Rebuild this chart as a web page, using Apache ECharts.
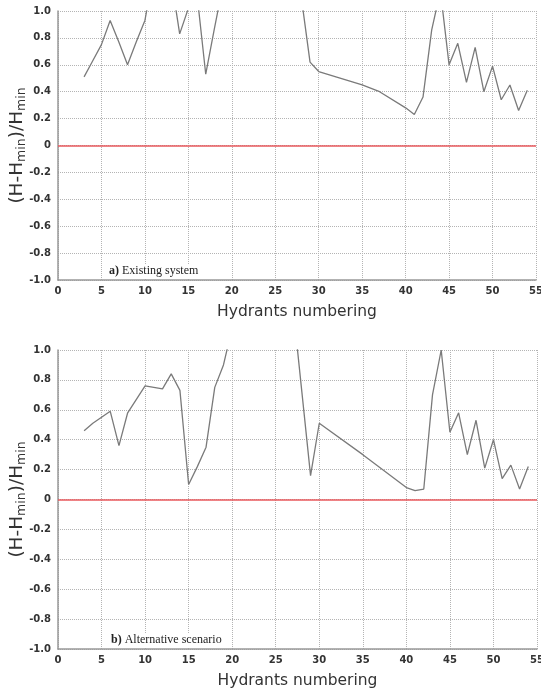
<!DOCTYPE html>
<html>
<head>
<meta charset="utf-8">
<script src="https://cdn.jsdelivr.net/npm/echarts@6/dist/echarts.min.js"></script>
<style>
  html, body { margin: 0; padding: 0; background: #fff; }
  #chart { width: 541px; height: 692px; }
</style>
</head>
<body>
<div id="chart"></div>
<script>
// a) existing system
const hydrantsA = [3, 4, 5, 6, 7, 8, 9, 10, 11, 12, 13, 14, 15, 16, 17, 18, 19, 20, 21, 22, 23, 24, 25, 26, 27, 28, 29, 30, 35, 37, 40, 41, 42, 43, 44, 45, 46, 47, 48, 49, 50, 51, 52, 53, 54];
const valuesA = [0.51, 0.63, 0.75, 0.93, 0.77, 0.60, 0.77, 0.93, 1.28, 1.40, 1.25, 0.83, 1.02, 1.12, 0.53, 0.87, 1.20, 1.40, 1.50, 1.60, 1.50, 1.40, 1.45, 1.35, 1.30, 1.10, 0.62, 0.55, 0.45, 0.40, 0.28, 0.23, 0.36, 0.86, 1.15, 0.60, 0.76, 0.47, 0.73, 0.40, 0.59, 0.34, 0.45, 0.26, 0.41];

// b) alternative scenario
const hydrantsB = [3, 4, 5, 6, 7, 8, 9, 10, 11, 12, 13, 14, 15, 16, 17, 18, 19, 20, 21, 22, 23, 24, 25, 26, 27, 28, 29, 30, 35, 40, 41, 42, 43, 44, 45, 46, 47, 48, 49, 50, 51, 52, 53, 54];
const valuesB = [0.46, 0.51, 0.55, 0.59, 0.36, 0.58, 0.67, 0.76, 0.75, 0.74, 0.84, 0.73, 0.10, 0.22, 0.35, 0.75, 0.90, 1.15, 1.30, 1.40, 1.50, 1.40, 1.30, 1.20, 1.28, 0.72, 0.16, 0.51, 0.30, 0.08, 0.06, 0.07, 0.70, 1.00, 0.45, 0.58, 0.30, 0.53, 0.21, 0.40, 0.14, 0.23, 0.07, 0.22];

const xTicks = { min: 0, max: 55, interval: 5 };
const yTicks = { min: -1, max: 1, interval: 0.2 };

const chart = echarts.init(document.getElementById('chart'));

const gridColor = '#b4b4b4';
const labelStyle = { color: '#333', fontWeight: 'bold', fontSize: 10, fontFamily: 'DejaVu Sans' };

const makeX = (gridIndex) => ({
  type: 'value',
  gridIndex,
  min: xTicks.min,
  max: xTicks.max,
  interval: xTicks.interval,
  name: 'Hydrants numbering',
  nameLocation: 'middle',
  nameGap: 24,
  nameMoveOverlap: false,
  nameTextStyle: { color: '#333', fontSize: 15.5, fontFamily: 'DejaVu Sans' },
  axisLine: { onZero: false, lineStyle: { color: '#999', width: 1.5 } },
  axisTick: { show: false },
  axisLabel: { ...labelStyle, margin: 6 },
  splitLine: { show: true, lineStyle: { color: gridColor, type: 'dotted', width: 1 } }
});

const makeY = (gridIndex) => ({
  type: 'value',
  gridIndex,
  min: yTicks.min,
  max: yTicks.max,
  interval: yTicks.interval,
  name: '(H-H{sub|min})/H{sub|min}',
  nameLocation: 'middle',
  nameGap: 30,
  nameMoveOverlap: false,
  nameRotate: 90,
  nameTextStyle: {
    color: '#333', fontSize: 18.5, fontFamily: 'DejaVu Sans', lineHeight: 22,
    rich: { sub: { fontSize: 12.5, fontFamily: 'DejaVu Sans', color: '#333', verticalAlign: 'bottom', lineHeight: 14 } }
  },
  axisLine: { show: true, lineStyle: { color: '#999', width: 1.5 } },
  axisTick: { show: false },
  axisLabel: {
    ...labelStyle,
    margin: 7,
    formatter: (v) => Math.abs(v) < 1e-9 ? '0' : v.toFixed(1)
  },
  splitLine: { show: true, lineStyle: { color: gridColor, type: 'dotted', width: 1 } }
});

const zeroLine = {
  silent: true,
  symbol: 'none',
  label: { show: false },
  lineStyle: { color: '#e8595c', type: 'solid', width: 1.5 },
  data: [{ yAxis: 0 }]
};

const makeSeries = (idx, xs, ys) => ({
  type: 'line',
  xAxisIndex: idx,
  yAxisIndex: idx,
  data: xs.map((x, i) => [x, ys[i]]),
  showSymbol: false,
  symbol: 'none',
  clip: true,
  lineStyle: { color: '#7a7a7a', width: 1.3 },
  markLine: zeroLine
});

const option = {
  animation: false,
  grid: [
    { left: 58, right: 5, top: 11, height: 269, outerBoundsMode: 'none', containLabel: false },
    { left: 58, right: 4, top: 350, height: 299, outerBoundsMode: 'none', containLabel: false }
  ],
  xAxis: [makeX(0), makeX(1)],
  yAxis: [makeY(0), makeY(1)],
  series: [
    makeSeries(0, hydrantsA, valuesA),
    makeSeries(1, hydrantsB, valuesB)
  ],
  graphic: [
    {
      type: 'text', left: 107, top: 264, z: 100,
      style: {
        text: '{b|a)} Existing system',
        font: '12px "Liberation Serif"', fill: '#222',
        backgroundColor: '#fff', padding: [1, 2],
        rich: { b: { fontWeight: 'bold', fontSize: 12, fontFamily: 'Liberation Serif', fill: '#222' } }
      }
    },
    {
      type: 'text', left: 109, top: 633, z: 100,
      style: {
        text: '{b|b)} Alternative scenario',
        font: '12px "Liberation Serif"', fill: '#222',
        backgroundColor: '#fff', padding: [1, 2],
        rich: { b: { fontWeight: 'bold', fontSize: 12, fontFamily: 'Liberation Serif', fill: '#222' } }
      }
    }
  ]
};

chart.setOption(option);
window.addEventListener('resize', () => chart.resize());
</script>
</body>
</html>
